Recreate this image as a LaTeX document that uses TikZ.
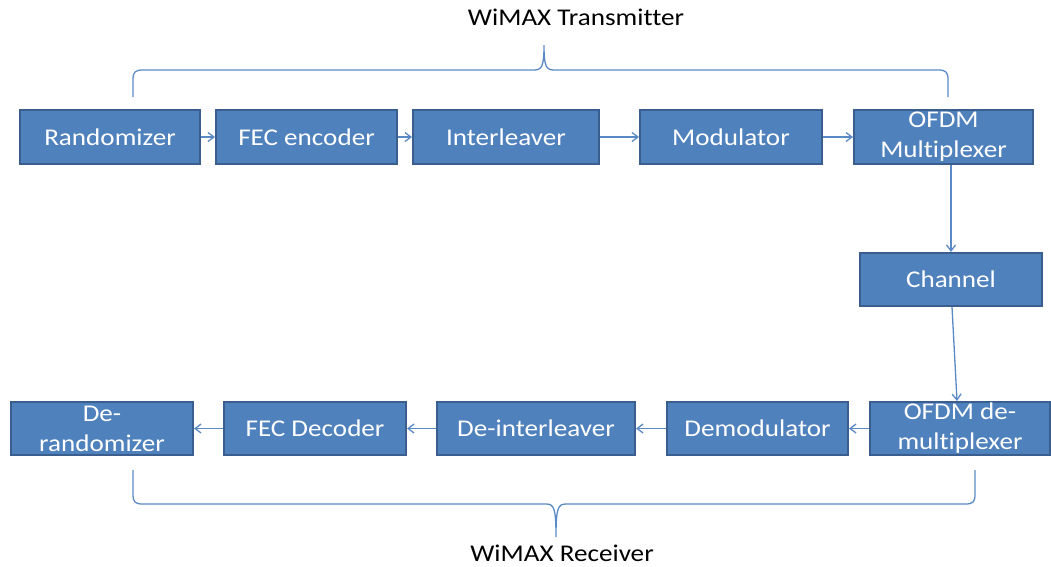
\documentclass[tikz,border=0pt]{standalone}
\usepackage{fontspec}
\setmainfont{Carlito}[FakeStretch=1.13,Ligatures=CommonOff]
\usetikzlibrary{arrows.meta}
\definecolor{boxfill}{HTML}{4F81BD}
\definecolor{boxline}{HTML}{3A5F8E}
\definecolor{conn}{HTML}{5A8AC6}
\begin{document}
\begin{tikzpicture}[x=1pt,y=-1pt,
  blk/.style={draw=boxline,line width=2pt,fill=boxfill,text=white,
    font=\fontsize{24}{30}\selectfont,align=center,inner sep=0pt,
    minimum height=54pt},
  conn/.style={draw=conn,line width=1.3pt,-{Straight Barb[length=6pt,width=9pt]}},
  brace/.style={draw=conn,line width=1.3pt},
  title/.style={font=\fontsize{24}{28}\selectfont,text=black}]
\useasboundingbox (0,0) rectangle (1051,566);
% top row
\node[blk,minimum width=180pt] (rand) at (110,137) {Randomizer};
\node[blk,minimum width=181pt] (fece) at (306.5,137) {FEC encoder};
\node[blk,minimum width=186pt] (intl) at (506,137) {Interleaver};
\node[blk,minimum width=182pt] (mod)  at (731,137) {Modulator};
\node[blk,minimum width=179pt] (mux)  at (943.5,137) {OFDM\\Multiplexer};
% channel
\node[blk,minimum width=182pt,minimum height=53pt] (chan) at (951,279.5) {Channel};
% bottom row
\node[blk,minimum width=182pt,minimum height=53pt] (derand) at (102,428.5) {De-\\randomizer};
\node[blk,minimum width=182pt,minimum height=53pt] (fecd) at (315,428.5) {FEC Decoder};
\node[blk,minimum width=198pt,minimum height=53pt] (deint) at (536,428.5) {De-interleaver};
\node[blk,minimum width=181pt,minimum height=53pt] (demod) at (757.5,428.5) {Demodulator};
\node[blk,minimum width=180pt,minimum height=53pt] (demux) at (960,428.5) {OFDM de-\\multiplexer};
% titles
\node[title] (ttx) at (576,17) {WiMAX Transmitter};
\node[title] (trx) at (562,553) {WiMAX Receiver};
% connectors
\draw[conn] (rand.east) -- (fece.west);
\draw[conn] (fece.east) -- (intl.west);
\draw[conn] (intl.east) -- (mod.west);
\draw[conn] (mod.east) -- (mux.west);
\draw[conn] (mux.south -| chan.north) -- (chan.north);
\coordinate (chout) at (952,307);
\coordinate (dmin) at (957,401);
\draw[conn] (chout) -- (dmin);
\draw[conn] (demux.west) -- (demod.east);
\draw[conn] (demod.west) -- (deint.east);
\draw[conn] (deint.west) -- (fecd.east);
\draw[conn] (fecd.west) -- (derand.east);
% braces
\draw[brace] (133,97) -- (133,80) .. controls (133,72) and (135,70) .. (143,70)
  -- (534,70) .. controls (542,70) and (544,66) .. (544,45)
  .. controls (544,66) and (546,70) .. (554,70)
  -- (938,70) .. controls (946,70) and (948,72) .. (948,80) -- (948,97);
\draw[brace] (133,470) -- (133,494) .. controls (133,502) and (135,504) .. (143,504)
  -- (546,504) .. controls (554,504) and (556,508) .. (556,537)
  .. controls (556,508) and (558,504) .. (566,504)
  -- (965,504) .. controls (973,504) and (975,502) .. (975,494) -- (975,470);
\end{tikzpicture}
\end{document}
